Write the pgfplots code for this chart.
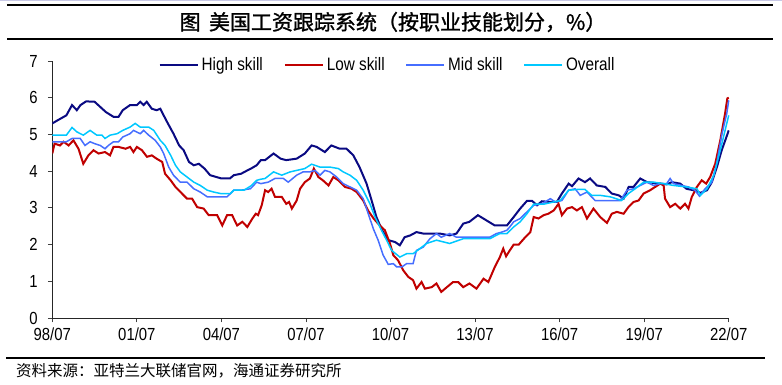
\documentclass[border=0pt]{standalone}
\usepackage{fontspec}
\usepackage{pgfplots}
\pgfplotsset{compat=1.18}
\newfontfamily\cjk{Noto Sans CJK SC}
\newfontfamily\cjktitle[FakeBold=1.2]{Noto Sans CJK SC}
\newfontfamily\tickfont[FakeStretch=0.85]{Liberation Sans}
\definecolor{hs}{RGB}{10,10,130}
\definecolor{ls}{RGB}{192,0,0}
\definecolor{ms}{RGB}{70,110,255}
\definecolor{ov}{RGB}{0,200,255}
\begin{document}
\begin{tikzpicture}
\useasboundingbox (0,0) rectangle (782bp,385bp);
\draw[color={rgb,255:red,200;green,200;blue,230}, line width=1bp] (0,384.5bp) -- (782bp,384.5bp);
\draw[black, line width=1.1bp] (7bp,380bp) -- (773bp,380bp);
\draw[black, line width=1.1bp] (7bp,346bp) -- (773bp,346bp);
\node[font=\cjktitle\fontsize{21bp}{24bp}\selectfont, inner sep=0pt] at (393bp,363bp) {图\hspace{0.4em}美国工资跟踪系统（按职业技能划分，\%）};
\draw[black, line width=1.1bp] (6bp,27bp) -- (765bp,27bp);
\node[font=\cjk\fontsize{15.5bp}{18bp}\selectfont, inner sep=0pt, anchor=west] at (16bp,14bp) {资料来源：亚特兰大联储官网，海通证券研究所};
\begin{axis}[
  at={(52.3bp,67bp)}, anchor=south west,
  scale only axis, width=677bp, height=257bp,
  xmin=1998.5, xmax=2022.52, ymin=0, ymax=7,
  axis lines=left, axis line style={-, black!85, line width=0.8bp},
  xtick={1998.5,2001.5,2004.5,2007.5,2010.5,2013.5,2016.5,2019.5,2022.5},
  xticklabels={98/07,01/07,04/07,07/07,10/07,13/07,16/07,19/07,22/07},
  ytick={0,1,2,3,4,5,6,7},
  tick align=outside, major tick length=4.5bp,
  tick style={black!75, line width=0.8bp},
  /pgf/number format/assume math mode=true,
  ticklabel style={font=\tickfont\fontsize{17.5bp}{20bp}\selectfont},
  xticklabel style={inner sep=0pt, anchor=north, yshift=-5bp},
  yticklabel style={inner sep=0pt, anchor=east, xshift=-10bp},
  legend columns=-1,
  legend style={at={(0.496,0.984)}, anchor=center, draw=none, fill=none,
    font=\tickfont\fontsize{18bp}{21bp}\selectfont, inner sep=0pt,
    /tikz/every even column/.append style={column sep=18bp},
    nodes={inner xsep=3bp, inner ysep=1bp}},
  legend image code/.code={\draw[#1] (0bp,0bp) -- (38bp,0bp);},
  no markers,
]
\addplot[hs, line width=2bp] coordinates {
(1998.5,5.30)(1998.7,5.39)(1999.0,5.52)(1999.2,5.80)(1999.37,5.66)(1999.5,5.80)(1999.7,5.90)(2000.0,5.89)(2000.2,5.75)(2000.4,5.61)(2000.67,5.48)(2000.85,5.48)(2001.0,5.66)(2001.26,5.80)(2001.5,5.80)(2001.62,5.89)(2001.74,5.80)(2001.85,5.89)(2002.03,5.70)(2002.2,5.66)(2002.33,5.70)(2002.45,5.52)(2002.6,5.30)(2002.8,5.02)(2003.0,4.70)(2003.16,4.57)(2003.35,4.25)(2003.52,4.16)(2003.7,4.20)(2003.9,4.07)(2004.1,3.89)(2004.5,3.80)(2004.8,3.80)(2004.94,3.89)(2005.2,3.93)(2005.42,4.02)(2005.55,4.07)(2005.75,4.16)(2005.9,4.30)(2006.05,4.30)(2006.35,4.48)(2006.6,4.34)(2006.8,4.30)(2007.17,4.34)(2007.46,4.48)(2007.7,4.70)(2007.88,4.66)(2008.17,4.52)(2008.4,4.70)(2008.7,4.61)(2008.94,4.61)(2009.18,4.43)(2009.4,4.11)(2009.65,3.66)(2009.83,3.20)(2010.0,2.75)(2010.2,2.39)(2010.42,2.12)(2010.66,2.07)(2010.83,1.98)(2011.0,2.20)(2011.2,2.25)(2011.42,2.34)(2011.66,2.30)(2011.9,2.30)(2012.25,2.30)(2012.6,2.25)(2012.84,2.30)(2013.08,2.57)(2013.3,2.62)(2013.6,2.80)(2013.9,2.66)(2014.2,2.52)(2014.56,2.52)(2014.63,2.52)(2014.87,2.75)(2015.1,2.98)(2015.34,3.19)(2015.52,3.19)(2015.7,3.07)(2015.87,3.18)(2016.17,3.16)(2016.4,3.16)(2016.58,3.39)(2016.82,3.66)(2016.94,3.59)(2017.17,3.80)(2017.4,3.70)(2017.58,3.80)(2017.82,3.61)(2018.12,3.57)(2018.35,3.39)(2018.6,3.34)(2018.77,3.25)(2018.95,3.57)(2019.12,3.57)(2019.36,3.80)(2019.6,3.70)(2019.83,3.68)(2020.07,3.66)(2020.3,3.64)(2020.48,3.70)(2020.78,3.66)(2021.0,3.52)(2021.25,3.48)(2021.5,3.41)(2021.73,3.48)(2021.9,3.70)(2022.08,4.11)(2022.25,4.57)(2022.4,4.89)(2022.5,5.11)
};
\addlegendentry{High skill}
\addplot[ls, line width=2bp] coordinates {
(1998.5,4.48)(1998.58,4.75)(1998.77,4.70)(1998.9,4.80)(1999.08,4.70)(1999.25,4.84)(1999.43,4.61)(1999.6,4.20)(1999.78,4.43)(1999.96,4.57)(2000.14,4.48)(2000.37,4.52)(2000.55,4.43)(2000.67,4.66)(2000.85,4.66)(2001.1,4.61)(2001.26,4.66)(2001.38,4.52)(2001.5,4.66)(2001.68,4.57)(2001.86,4.39)(2002.03,4.43)(2002.2,4.34)(2002.4,4.25)(2002.5,3.93)(2002.7,3.75)(2002.87,3.57)(2003.1,3.39)(2003.28,3.25)(2003.46,3.25)(2003.64,3.02)(2003.87,2.98)(2004.05,2.80)(2004.35,2.80)(2004.53,2.52)(2004.7,2.80)(2004.88,2.80)(2005.06,2.52)(2005.24,2.62)(2005.42,2.48)(2005.6,2.71)(2005.72,2.84)(2005.8,2.80)(2005.93,3.07)(2006.05,3.48)(2006.16,3.43)(2006.28,3.52)(2006.4,3.30)(2006.64,3.30)(2006.8,3.11)(2006.9,3.16)(2007.0,2.98)(2007.17,3.20)(2007.29,3.52)(2007.46,3.70)(2007.64,3.80)(2007.78,4.07)(2007.94,3.84)(2008.1,3.75)(2008.3,3.61)(2008.47,3.84)(2008.65,3.75)(2008.88,3.57)(2009.12,3.52)(2009.3,3.43)(2009.53,3.20)(2009.7,2.93)(2009.9,2.71)(2010.12,2.52)(2010.3,2.39)(2010.48,2.03)(2010.6,1.71)(2010.77,1.57)(2010.95,1.30)(2011.13,1.12)(2011.3,1.03)(2011.42,0.80)(2011.6,0.98)(2011.72,0.80)(2011.96,0.84)(2012.13,0.94)(2012.3,0.71)(2012.5,0.84)(2012.72,0.98)(2012.9,0.98)(2013.08,0.84)(2013.3,0.94)(2013.55,0.80)(2013.8,1.07)(2013.97,0.98)(2014.2,1.39)(2014.38,1.66)(2014.5,1.89)(2014.6,1.68)(2014.73,1.84)(2014.87,2.00)(2015.05,2.00)(2015.28,2.20)(2015.46,2.34)(2015.58,2.75)(2015.75,2.71)(2015.93,2.80)(2016.1,2.84)(2016.29,2.93)(2016.46,3.11)(2016.58,2.80)(2016.76,2.98)(2016.94,3.02)(2017.11,2.93)(2017.29,3.02)(2017.47,2.71)(2017.7,2.98)(2017.94,2.75)(2018.18,2.59)(2018.35,2.84)(2018.53,2.89)(2018.77,2.84)(2018.94,3.02)(2019.12,3.16)(2019.3,3.20)(2019.48,3.39)(2019.71,3.48)(2019.89,3.57)(2020.07,3.66)(2020.19,3.61)(2020.24,3.25)(2020.42,3.02)(2020.6,3.11)(2020.78,2.98)(2020.95,3.11)(2021.07,2.98)(2021.19,3.30)(2021.37,3.57)(2021.54,3.75)(2021.7,3.66)(2021.84,3.84)(2022.02,4.20)(2022.2,4.84)(2022.37,5.57)(2022.45,5.98)(2022.5,6.00)
};
\addlegendentry{Low skill}
\addplot[ms, line width=1.5bp] coordinates {
(1998.5,4.80)(1999.0,4.80)(1999.2,4.89)(1999.49,4.89)(1999.66,4.70)(1999.84,4.80)(2000.0,4.75)(2000.2,4.70)(2000.37,4.61)(2000.49,4.70)(2000.67,4.80)(2000.85,4.80)(2001.0,4.93)(2001.26,5.02)(2001.38,5.11)(2001.62,5.02)(2001.74,5.11)(2001.92,4.98)(2002.15,4.84)(2002.33,4.66)(2002.45,4.48)(2002.63,4.11)(2002.8,3.89)(2003.04,3.70)(2003.28,3.70)(2003.52,3.52)(2003.75,3.43)(2004.0,3.30)(2004.35,3.30)(2004.7,3.30)(2004.94,3.48)(2005.18,3.48)(2005.53,3.52)(2005.75,3.70)(2005.9,3.66)(2006.16,3.70)(2006.4,3.80)(2006.7,3.80)(2006.87,3.70)(2007.17,3.89)(2007.4,3.98)(2007.64,3.98)(2007.82,4.02)(2008.0,3.89)(2008.17,4.02)(2008.35,3.98)(2008.59,3.84)(2008.82,3.66)(2009.06,3.57)(2009.3,3.48)(2009.53,3.25)(2009.71,2.84)(2009.89,2.43)(2010.06,2.12)(2010.24,1.71)(2010.42,1.46)(2010.6,1.48)(2010.72,1.39)(2010.9,1.39)(2011.07,1.48)(2011.3,1.48)(2011.42,1.84)(2011.66,1.93)(2011.9,2.16)(2012.13,2.30)(2012.3,2.20)(2012.6,2.30)(2012.84,2.20)(2013.2,2.20)(2013.67,2.20)(2014.02,2.20)(2014.26,2.30)(2014.45,2.34)(2014.63,2.39)(2014.73,2.48)(2014.87,2.62)(2015.1,2.71)(2015.34,2.89)(2015.58,3.07)(2015.87,3.11)(2016.17,3.25)(2016.35,3.16)(2016.58,3.20)(2016.82,3.48)(2017.05,3.52)(2017.23,3.34)(2017.47,3.43)(2017.76,3.20)(2018.06,3.20)(2018.35,3.20)(2018.65,3.20)(2018.89,3.48)(2019.12,3.52)(2019.36,3.61)(2019.6,3.70)(2019.83,3.61)(2020.07,3.66)(2020.3,3.66)(2020.42,3.80)(2020.54,3.66)(2020.83,3.61)(2021.07,3.57)(2021.3,3.48)(2021.46,3.32)(2021.66,3.52)(2021.9,3.70)(2022.07,4.20)(2022.25,4.98)(2022.43,5.57)(2022.5,5.93)
};
\addlegendentry{Mid skill}
\addplot[ov, line width=1.5bp] coordinates {
(1998.5,4.98)(1999.0,4.98)(1999.2,5.19)(1999.37,5.07)(1999.6,4.98)(1999.84,5.11)(2000.08,4.98)(2000.26,4.98)(2000.37,4.89)(2000.55,4.98)(2000.8,5.02)(2001.0,5.11)(2001.26,5.20)(2001.44,5.30)(2001.62,5.20)(2001.92,5.20)(2002.1,5.11)(2002.33,4.84)(2002.5,4.70)(2002.7,4.43)(2002.87,4.16)(2003.04,3.98)(2003.28,3.84)(2003.52,3.70)(2003.75,3.61)(2004.0,3.48)(2004.23,3.43)(2004.47,3.39)(2004.82,3.39)(2004.94,3.48)(2005.3,3.48)(2005.55,3.60)(2005.75,3.75)(2005.9,3.78)(2006.05,3.80)(2006.35,3.98)(2006.64,3.89)(2006.94,3.98)(2007.17,4.02)(2007.46,4.07)(2007.7,4.19)(2008.0,4.11)(2008.35,4.11)(2008.65,4.07)(2008.82,3.98)(2009.06,3.89)(2009.3,3.75)(2009.53,3.48)(2009.77,3.11)(2009.95,2.75)(2010.18,2.39)(2010.36,2.12)(2010.54,1.84)(2010.83,1.66)(2011.07,1.75)(2011.3,1.75)(2011.54,1.89)(2011.78,2.03)(2012.13,2.12)(2012.6,2.03)(2013.08,2.16)(2013.67,2.16)(2014.02,2.16)(2014.38,2.30)(2014.63,2.30)(2014.87,2.48)(2015.1,2.62)(2015.34,2.84)(2015.58,3.10)(2015.93,3.10)(2016.29,3.16)(2016.52,3.20)(2016.82,3.48)(2017.11,3.50)(2017.4,3.50)(2017.64,3.34)(2017.94,3.34)(2018.3,3.30)(2018.7,3.20)(2018.94,3.39)(2019.18,3.52)(2019.48,3.70)(2019.83,3.70)(2020.19,3.66)(2020.54,3.61)(2021.0,3.57)(2021.37,3.52)(2021.5,3.34)(2021.73,3.52)(2021.97,3.89)(2022.2,4.57)(2022.37,5.11)(2022.5,5.52)
};
\addlegendentry{Overall}
\end{axis}
\end{tikzpicture}
\end{document}
